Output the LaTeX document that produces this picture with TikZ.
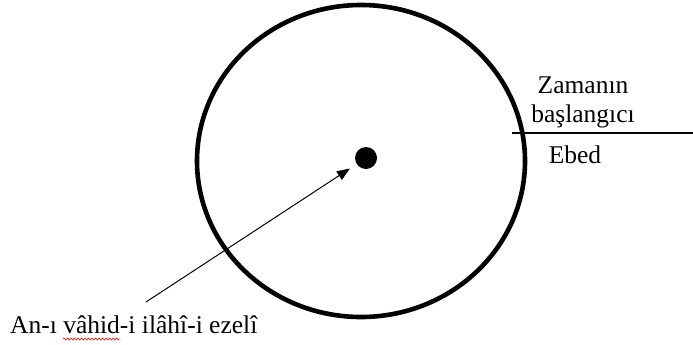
\documentclass[tikz,border=0pt]{standalone}
\usepackage{fontspec}
\setmainfont{Liberation Serif}
\usetikzlibrary{arrows.meta, positioning, shapes.geometric, decorations.pathmorphing}
\definecolor{ink}{HTML}{000000}
\definecolor{spell-red}{HTML}{E03A3A}
\tikzset{
  time-ring/.style={
    ellipse, draw=ink, line width=4.6pt, inner sep=0pt,
    minimum width=328pt, minimum height=312pt
  },
  now-dot/.style={circle, fill=ink, inner sep=0pt, minimum size=22pt},
  label-text/.style={font=\fontsize{25.5}{29}\selectfont, inner sep=0pt, align=center},
  pointer/.style={-{Triangle[length=13pt, width=10pt]}, line width=1pt, draw=ink, shorten >=8pt},
  boundary/.style={line width=1.3pt, draw=ink}
}

\begin{document}
\begin{tikzpicture}[x=1pt, y=-1pt]
  \useasboundingbox (0,0) rectangle (693,345);

  % Ring and the single point at its centre
  \node[time-ring] (ring) at (361,161) {};
  \node[now-dot]   (dot)  at (366,158) {};

  % Beginning of time line on the right
  \coordinate (edge-pt)   at (512,133);
  \coordinate (page-edge) at (693,133);
  \draw[boundary] (edge-pt) -- (page-edge);
  \node[label-text, anchor=north] (start-lbl) at (583,77) {Zamanın\\başlangıcı};
  \node[label-text, anchor=base]  (ebed-lbl)  at (575,163) {Ebed};

  % Pointer from the label to the dot
  \node[label-text, anchor=base west] (an-lbl) at (10,333) {An-ı vâhid-i ilâhî-i ezelî};
  \coordinate (ray-start) at (146,302);
  \draw[pointer] (ray-start) -- (dot);

  % spell-check squiggle under the word
  \draw[spell-red, line width=0.8pt, decorate,
        decoration={snake, amplitude=1pt, segment length=3.5pt}] (63,339) -- (120,339);
\end{tikzpicture}
\end{document}
